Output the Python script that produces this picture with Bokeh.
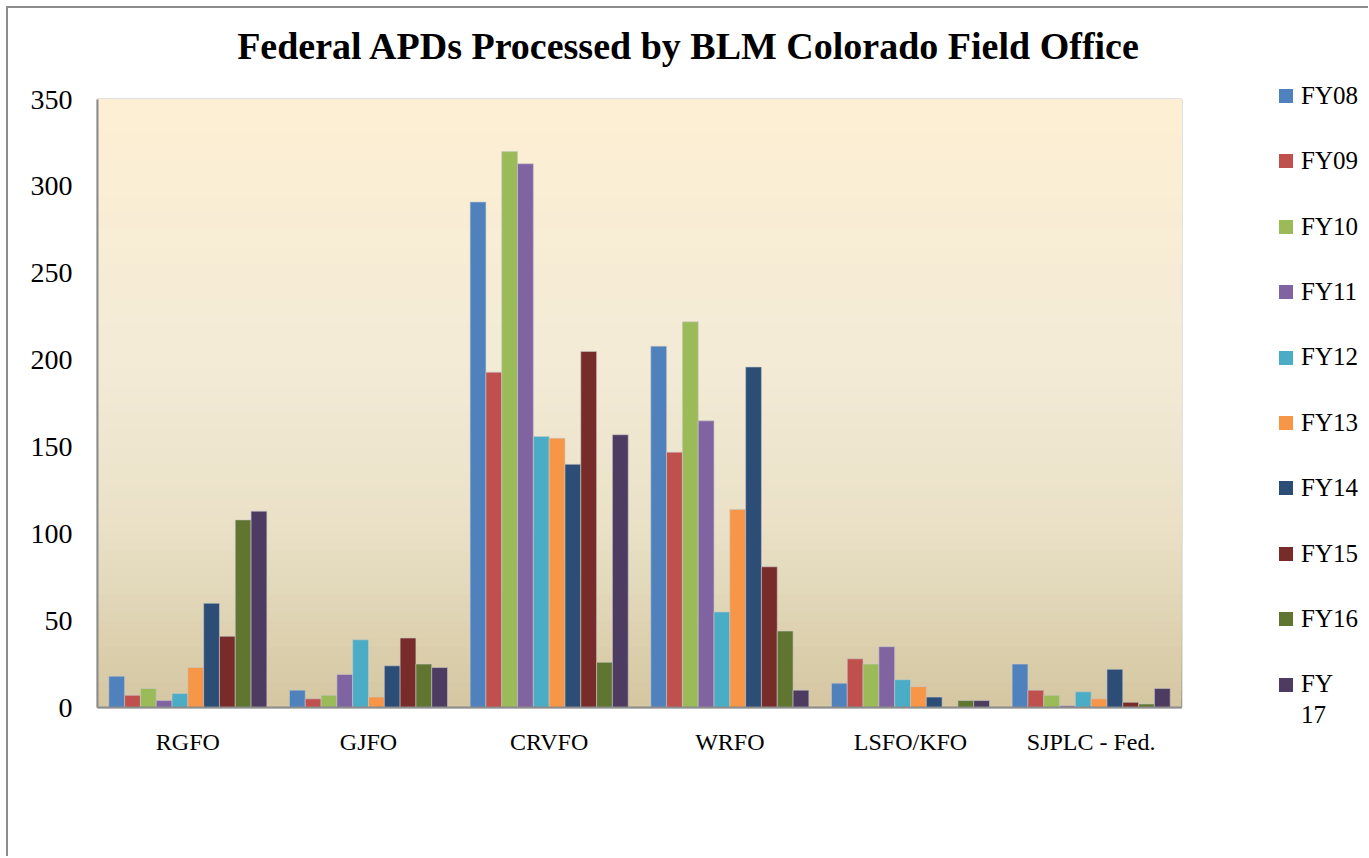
import numpy as np
from bokeh.plotting import figure
from bokeh.layouts import row, column
from bokeh.models import (ColumnDataSource, FactorRange, BoxAnnotation,
                          SingleIntervalTicker, Div)
from bokeh.transform import dodge
from bokeh.embed import file_html
from bokeh.resources import INLINE

title_text = "Federal APDs Processed by BLM Colorado Field Office"
offices = ["RGFO", "GJFO", "CRVFO", "WRFO", "LSFO/KFO", "SJPLC - Fed."]
years = ["FY08", "FY09", "FY10", "FY11", "FY12", "FY13", "FY14", "FY15", "FY16", "FY17"]
legend_labels = ["FY08", "FY09", "FY10", "FY11", "FY12", "FY13", "FY14", "FY15", "FY16", "FY<br>17"]

fy08 = [18, 10, 291, 208, 14, 25]
fy09 = [7, 5, 193, 147, 28, 10]
fy10 = [11, 7, 320, 222, 25, 7]
fy11 = [4, 19, 313, 165, 35, 1]
fy12 = [8, 39, 156, 55, 16, 9]
fy13 = [23, 6, 155, 114, 12, 5]
fy14 = [60, 24, 140, 196, 6, 22]
fy15 = [41, 40, 205, 81, 0, 3]
fy16 = [108, 25, 26, 44, 4, 2]
fy17 = [113, 23, 157, 10, 4, 11]

series = [fy08, fy09, fy10, fy11, fy12, fy13, fy14, fy15, fy16, fy17]
colors = ["#4F81BD", "#C0504D", "#9BBB59", "#8064A2", "#4BACC6",
          "#F79646", "#2C4D75", "#772C2A", "#5F7530", "#4D3B62"]

data = {"office": offices}
for y, s in zip(years, series):
    data[y] = s
source = ColumnDataSource(data)

FONT = "Liberation Serif"

p = figure(x_range=FactorRange(*offices), y_range=(0, 350),
           width=1178, height=788, output_backend="svg", toolbar_location=None,
           min_border_left=89, min_border_right=5, min_border_top=31, min_border_bottom=149)
p.title = None

# background gradient (stacked bands, each reaching the top, to avoid seams)
stops_y = [0, 100, 200, 350]
stops_c = [np.array([0xD4, 0xC6, 0xA0]), np.array([0xE9, 0xE0, 0xC6]),
           np.array([0xF3, 0xEB, 0xD6]), np.array([0xFD, 0xEF, 0xD3])]
edges = np.linspace(0, 350, 71)
for b, t in zip(edges[:-1], edges[1:]):
    m = (b + t) / 2
    c = [np.interp(m, stops_y, [s[k] for s in stops_c]) for k in range(3)]
    col = "#%02x%02x%02x" % tuple(int(round(v)) for v in c)
    p.add_layout(BoxAnnotation(bottom=b, top=350, fill_color=col, fill_alpha=1.0,
                               line_alpha=0, level="underlay"))

bw = 0.0875
for i, (y, c) in enumerate(zip(years, colors)):
    p.vbar(x=dodge("office", (i - 4.5) * bw, range=p.x_range), top=y, width=bw,
           source=source, fill_color=c, line_color="#C8C8C8", line_alpha=0.6, line_width=1)

p.yaxis.ticker = SingleIntervalTicker(interval=50)
p.yaxis.major_label_text_font = FONT
p.yaxis.major_label_text_font_size = "28px"
p.yaxis.major_label_text_color = "#000000"
p.yaxis.major_label_standoff = 21
p.xaxis.major_label_text_font = FONT
p.xaxis.major_label_text_font_size = "24px"
p.xaxis.major_label_text_color = "#000000"
p.xaxis.major_label_standoff = 21
for ax in (p.xaxis, p.yaxis):
    ax.major_tick_line_color = None
    ax.major_tick_out = 0
    ax.major_tick_in = 0
    ax.minor_tick_line_color = None
    ax.axis_line_color = "#8C8C8C"
    ax.axis_line_width = 2

p.xgrid.grid_line_color = None
p.ygrid.grid_line_color = "#8A8A8A"
p.ygrid.grid_line_width = 2
p.ygrid.level = "underlay"
p.outline_line_color = "#8C8C8C"
p.outline_line_width = 1.5
p.background_fill_color = "#FFFFFF"
p.border_fill_color = "#FFFFFF"
p.x_range.range_padding = 0

# title (HTML, centred over the whole chart)
title_div = Div(text=f'<div style="width:1360px;text-align:center;padding-top:17px;'
                     f'font-family:\'{FONT}\';font-size:38px;font-weight:bold;'
                     f'line-height:43px;color:#000;">{title_text}</div>',
                width=1360, height=60, margin=(0, 0, 0, 0))

# legend (HTML, to the right of the plot)
parts = []
for k, (c, lab) in enumerate(zip(colors, legend_labels)):
    top = 21 + 65.4 * k
    parts.append(
        f'<div style="position:absolute;left:93px;top:{top:.1f}px;width:14px;height:14px;'
        f'background:{c};"></div>'
        f'<div style="position:absolute;left:115px;top:{top - 9.3:.1f}px;'
        f'font-family:\'{FONT}\';font-size:25px;line-height:31px;color:#000;">{lab}</div>')
legend_div = Div(text='<div style="position:relative;width:182px;height:788px;">'
                 + "".join(parts) + "</div>", width=182, height=788, margin=(0, 0, 0, 0))

layout = column(title_div, row(p, legend_div, spacing=0), spacing=0)
layout.styles = {"border-left": "2px solid #8C8C8C", "border-top": "2px solid #8C8C8C",
                 "margin-left": "6px", "margin-top": "6px"}

open("out.html", "w").write(file_html(layout, INLINE))
